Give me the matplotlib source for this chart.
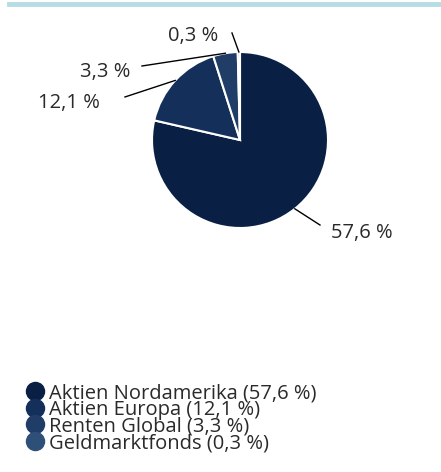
import numpy as np
import matplotlib
matplotlib.use("Agg")
import matplotlib.pyplot as plt
from matplotlib.lines import Line2D

# Daten
categories = ["Aktien Nordamerika", "Aktien Europa", "Renten Global", "Geldmarktfonds"]
values = [57.6, 12.1, 3.3, 0.3]
labels = ["57,6 %", "12,1 %", "3,3 %", "0,3 %"]
colors = ["#0a1f44", "#14305a", "#1f3d66", "#2e5078"]

plt.rcParams["font.family"] = ["Open Sans", "DejaVu Sans"]
text_color = "#2a2a2a"

fig = plt.figure(figsize=(4.41, 4.72), dpi=100)

# Linie oben
fig.add_artist(Line2D([9 / 441, 1], [1 - 4 / 472, 1 - 4 / 472],
                      color="#b5dde3", lw=3.5, transform=fig.transFigure))

ax = fig.add_axes([152 / 441, 1 - 228 / 472, 176 / 441, 176 / 472])
wedges, _ = ax.pie(values, colors=colors, startangle=90, counterclock=False,
                   radius=1, wedgeprops=dict(edgecolor="white", linewidth=1.5))
ax.set_xlim(-1, 1)
ax.set_ylim(-1, 1)
ax.set_aspect("equal")
ax.axis("off")

# Beschriftungen: Linienende und Textposition (Datenkoordinaten)
line_ends = [(0.909, -0.966), (-1.307, 0.489), (-1.114, 0.841), (-0.091, 1.216)]
text_pos = [(1.03, -1.057), (-1.59, 0.42), (-1.25, 0.773), (-0.25, 1.182)]
aligns = ["left", "right", "right", "right"]

for w, lab, le, tp, ha in zip(wedges, labels, line_ends, text_pos, aligns):
    mid = np.deg2rad((w.theta1 + w.theta2) / 2)
    x0, y0 = np.cos(mid), np.sin(mid)
    ax.plot([x0, le[0]], [y0, le[1]], color="black", lw=1, clip_on=False)
    ax.text(tp[0], tp[1], lab, ha=ha, va="center", fontsize=14.5,
            color=text_color, clip_on=False)

handles = [Line2D([0], [0], marker="o", linestyle="", markersize=13,
                  markerfacecolor=c, markeredgecolor=c) for c in colors]
leg_labels = [f"{c} ({l})" for c, l in zip(categories, labels)]
fig.legend(handles, leg_labels, loc="upper left",
           bbox_to_anchor=(15 / 441, 1 - 373 / 472), frameon=False,
           fontsize=14.5, labelspacing=-0.165, handletextpad=0.2,
           handlelength=1.0, borderpad=0, labelcolor=text_color)

plt.savefig("out.png", dpi=100)
